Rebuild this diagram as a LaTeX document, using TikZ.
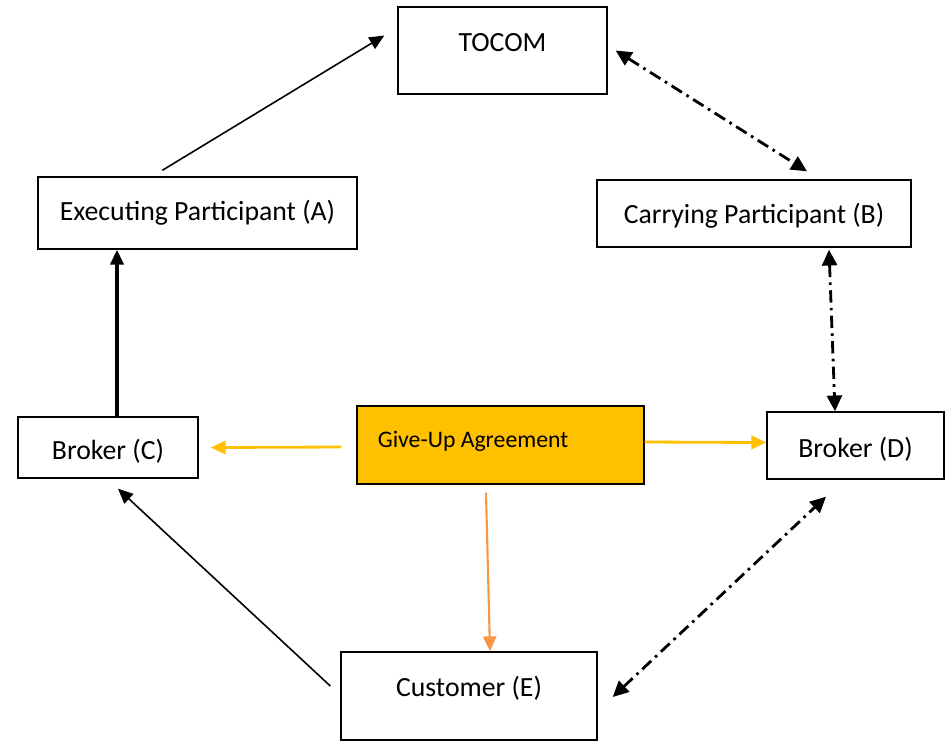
\documentclass[tikz,border=0pt]{standalone}
\usepackage{fontspec}
\setmainfont{Carlito}
\usetikzlibrary{arrows.meta,calc}
\definecolor{gold}{HTML}{FFC000}
\definecolor{peach}{HTML}{F79646}

\begin{document}
\begin{tikzpicture}[x=0.02cm,y=-0.02cm,
  box/.style={draw,line width=0.8pt,inner sep=0pt},
  lbl/.style={font=\fontsize{15.8}{18}\selectfont},
  arr/.style={-{Triangle[length=8.5pt,width=7.5pt]},line width=0.9pt},
  dashdot/.style={{Triangle[length=9pt,width=8.5pt]}-{Triangle[length=9pt,width=8.5pt]},
    line width=1.6pt,dash pattern=on 7pt off 3pt on 1.5pt off 3pt}]
\useasboundingbox (0,0) rectangle (945,741);
% 箱
\node[box,minimum width=4.18cm,minimum height=1.74cm,
  label={[lbl,yshift=0.15cm]center:TOCOM}] (tocom) at (502.5,50.5) {};
\node[box,minimum width=6.38cm,minimum height=1.44cm,
  label={[lbl]center:Executing Participant (A)}] (a) at (197.5,213) {};
\node[box,minimum width=6.28cm,minimum height=1.34cm,
  label={[lbl,yshift=-0.05cm]center:Carrying Participant (B)}] (b) at (754,213.5) {};
\node[box,minimum width=3.60cm,minimum height=1.22cm,
  label={[lbl,yshift=-0.08cm]center:Broker (C)}] (c) at (108,447.5) {};
\node[box,minimum width=3.54cm,minimum height=1.34cm,
  label={[lbl,yshift=-0.08cm]center:Broker (D)}] (d) at (855.5,445.5) {};
\node[box,fill=gold,minimum width=5.74cm,minimum height=1.56cm,
  label={[font=\fontsize{13.5}{16}\selectfont,xshift=-0.55cm,yshift=0.08cm]center:Give-Up Agreement}] (g) at (500.5,445) {};
\node[box,minimum width=5.12cm,minimum height=1.76cm,
  label={[lbl,yshift=0.16cm]center:Customer (E)}] (e) at (469,696) {};
% 実線の矢印
\draw[arr] ($(a.north west)+(125,-6)$) -- ($(tocom.west)+(-13,-15)$);
\draw[arr,line width=1.8pt] ([xshift=0.18cm]c.north) -- ([xshift=0.18cm]c.north |- a.south);
\draw[arr] ($(e.west)+(-10,-10)$) -- ($(c.south)+(10,10)$);
% 一点鎖線
\draw[dashdot] ($(tocom.east)+(8,0)$) -- ($(b.north)+(53,-8)$);
\draw[dashdot] ($(b.south)+(75,2)$) -- ($(d.north)+(-20.5,0)$);
\draw[dashdot] ($(e.east)+(15,1)$) -- ($(d.south)+(-29.5,17)$);
% Give-Up から
\draw[arr,gold,line width=1.6pt] ($(g.west)+(-15,2)$) -- ($(c.east)+(12,0)$);
\draw[arr,gold,line width=1.6pt] ([yshift=0.06cm]g.east) -- ([yshift=0.06cm]d.west);
\draw[arr,peach,line width=1.2pt] ($(g.south)+(-14.5,8)$) -- ($(e.north)+(21,0)$);
\end{tikzpicture}
\end{document}
